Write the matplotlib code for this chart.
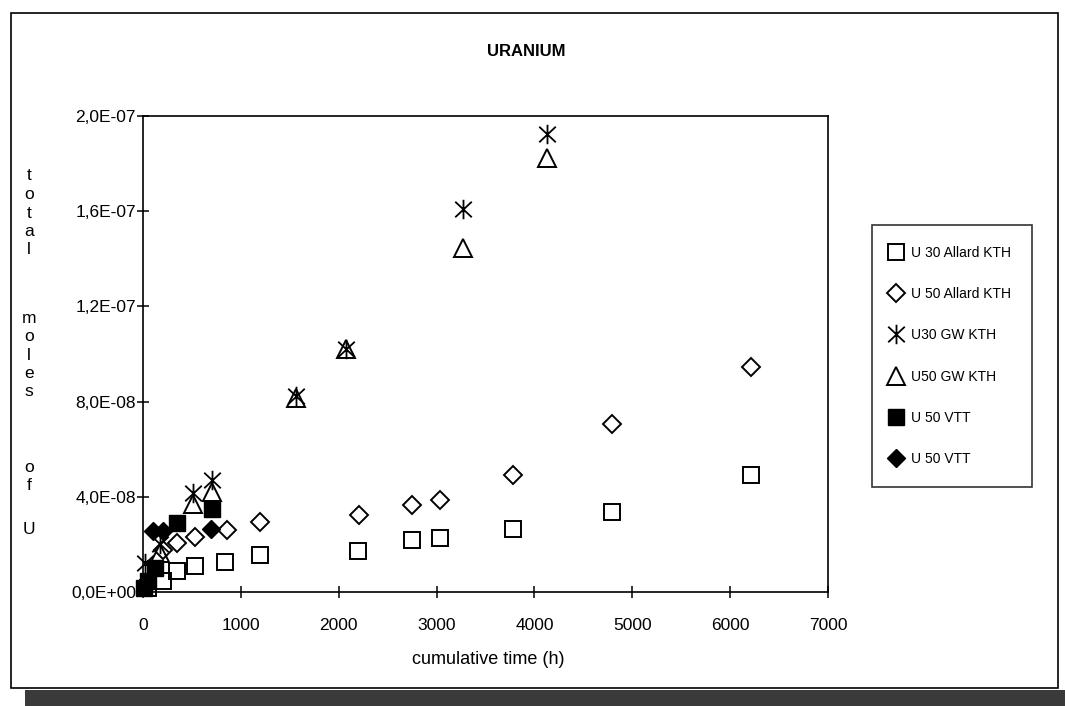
import matplotlib
matplotlib.use("Agg")
import matplotlib.pyplot as plt
from matplotlib.path import Path
from matplotlib.patches import Rectangle

plt.rcParams['font.family'] = ['Liberation Sans', 'DejaVu Sans']

# cumulative leaching time (h) and total dissolved uranium (mol)
u30_allard_t = [48, 200, 350, 530, 840, 1200, 2200, 2750, 3040, 3780, 4790, 6210]
u30_allard_u = [1.5e-9, 4.6e-9, 8.8e-9, 1.1e-8, 1.25e-8, 1.55e-8, 1.72e-8,
                2.17e-8, 2.26e-8, 2.66e-8, 3.37e-8, 4.92e-8]

u50_allard_t = [200, 350, 530, 860, 1200, 2210, 2750, 3040, 3780, 4790, 6210]
u50_allard_u = [1.75e-8, 2.05e-8, 2.3e-8, 2.6e-8, 2.94e-8, 3.24e-8, 3.66e-8,
                3.87e-8, 4.92e-8, 7.05e-8, 9.45e-8]

u30_gw_t = [20, 175, 510, 700, 1560, 2070, 3275, 4130]
u30_gw_u = [1.2e-8, 2.0e-8, 4.16e-8, 4.7e-8, 8.25e-8, 1.02e-7, 1.61e-7, 1.924e-7]

u50_gw_t = [175, 510, 700, 1560, 2070, 3275, 4130]
u50_gw_u = [1.65e-8, 3.7e-8, 4.2e-8, 8.15e-8, 1.02e-7, 1.445e-7, 1.824e-7]

u50_vtt_a_t = [10, 50, 120, 350, 700]
u50_vtt_a_u = [1.5e-9, 4.5e-9, 1.0e-8, 2.9e-8, 3.5e-8]

u50_vtt_b_t = [100, 200, 690]
u50_vtt_b_u = [2.56e-8, 2.56e-8, 2.63e-8]

series_labels = ["U 30 Allard KTH", "U 50 Allard KTH", "U30 GW KTH",
                 "U50 GW KTH", "U 50 VTT", "U 50 VTT"]

x_ticks = [0, 1000, 2000, 3000, 4000, 5000, 6000, 7000]
y_ticks = [0.0, 4e-8, 8e-8, 1.2e-7, 1.6e-7, 2.0e-7]
y_tick_labels = ["0,0E+00", "4,0E-08", "8,0E-08", "1,2E-07", "1,6E-07", "2,0E-07"]

W, H = 1065, 706
fig = plt.figure(figsize=(W / 100, H / 100), dpi=100)

# six-armed asterisk: vertical bar plus an X
star = Path([(0, -1), (0, 1), (-0.85, -0.8), (0.85, 0.8), (-0.85, 0.8), (0.85, -0.8)],
            [Path.MOVETO, Path.LINETO, Path.MOVETO, Path.LINETO, Path.MOVETO, Path.LINETO])

ax = fig.add_axes([143 / W, 1 - 592 / H, (828 - 143) / W, (592 - 116) / H])

common = dict(linestyle='none', clip_on=False, color='black')
ax.plot(u30_allard_t, u30_allard_u, marker='s', ms=12, mfc='none', mew=1.4,
        label=series_labels[0], **common)
ax.plot(u50_allard_t, u50_allard_u, marker='D', ms=9.5, mfc='none', mew=1.4,
        label=series_labels[1], **common)
ax.plot(u30_gw_t, u30_gw_u, marker=star, ms=14, mew=1.3,
        label=series_labels[2], **common)
ax.plot(u50_gw_t, u50_gw_u, marker='^', ms=12.5, mfc='none', mew=1.4,
        label=series_labels[3], **common)
ax.plot(u50_vtt_a_t, u50_vtt_a_u, marker='s', ms=12, mfc='black', mew=1,
        label=series_labels[4], **common)
ax.plot(u50_vtt_b_t, u50_vtt_b_u, marker='D', ms=9.5, mfc='black', mew=1,
        label=series_labels[5], **common)

ax.set_xlim(0, 7000)
ax.set_ylim(0, 2.0e-7)
ax.set_xticks(x_ticks)
ax.set_xticklabels([str(v) for v in x_ticks])
ax.set_yticks(y_ticks)
ax.set_yticklabels(y_tick_labels)

for s in ax.spines.values():
    s.set_linewidth(1.2)
ax.tick_params(axis='x', direction='inout', length=9, width=1.1, pad=14, labelsize=12.5)
ax.tick_params(axis='y', direction='inout', length=8, width=1.1, pad=1, labelsize=12.5)

leg = ax.legend(loc='upper left', bbox_to_anchor=(872 / W, 1 - 225 / H),
                bbox_transform=fig.transFigure, fancybox=False, frameon=True,
                edgecolor='black', fontsize=10, numpoints=1, handlelength=0.5,
                handletextpad=0.8, labelspacing=1.96, borderpad=1.5,
                borderaxespad=0)
leg.get_frame().set_linewidth(1.2)

fig.text(526 / W, 1 - 52 / H, "URANIUM", ha='center', va='center',
         fontsize=12, fontweight='bold')
fig.text(488 / W, 1 - 660 / H, "cumulative time (h)", ha='center', va='center',
         fontsize=13)

# vertical axis title, one letter per line
y_words = ["total", "moles", "of", "U"]
word_top = [176, 318, 467, 530]
step = 18.5
for word, top in zip(y_words, word_top):
    for i, ch in enumerate(word):
        fig.text(29 / W, 1 - (top + i * step) / H, ch, ha='center', va='center',
                 fontsize=12.5)

# outer chart frame and the dark band beneath it
fig.patches.append(Rectangle((11 / W, 1 - 688 / H), (1058 - 11) / W, (688 - 13) / H,
                             transform=fig.transFigure, fill=False, lw=1.2,
                             edgecolor='black'))
fig.patches.append(Rectangle((25 / W, 0), 1 - 25 / W, (706 - 690) / H,
                             transform=fig.transFigure, facecolor='#3a3a3a',
                             edgecolor='none'))

fig.savefig("out.png", dpi=100)
